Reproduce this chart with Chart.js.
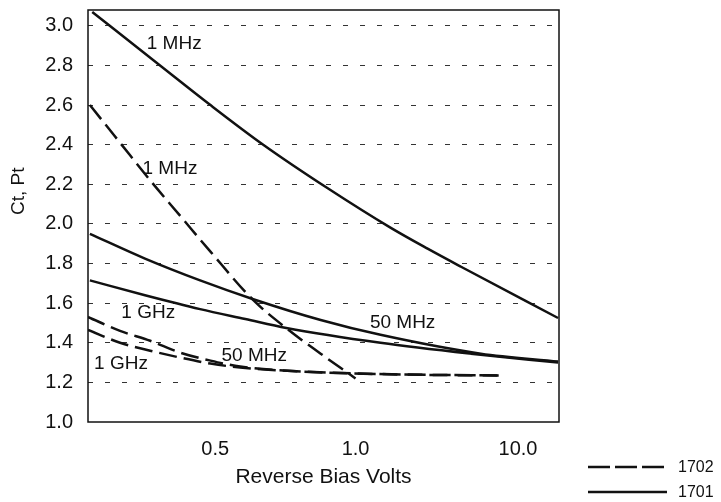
<!DOCTYPE html>
<html>
<head>
<meta charset="utf-8">
<title>Ct vs Reverse Bias Volts</title>
<script src="https://cdn.jsdelivr.net/npm/chart.js@4.4.1/dist/chart.umd.min.js"></script>
<style>
  html, body { margin: 0; padding: 0; background: #fff; }
  #wrap { width: 721px; height: 502px; }
</style>
</head>
<body>
<div id="wrap"><canvas id="myChart"></canvas></div>
<script>
// x is in plot units (0..100) along the printed bias axis,
// the original axis is neither linear nor log so we just place the ticks
const xTickPos = [27.0, 56.8, 91.3];
const xTickLabels = ['0.5', '1.0', '10.0'];
const yTicks = [1.0, 1.2, 1.4, 1.6, 1.8, 2.0, 2.2, 2.4, 2.6, 2.8, 3.0];

// 1701 (solid)
const x1701_1MHz = [0.9, 15.3, 26.0, 37.2, 50.9, 64.3, 72.1, 79.1, 99.8];
const y1701_1MHz = [3.07, 2.80, 2.60, 2.40, 2.18, 1.98, 1.875, 1.785, 1.525];
const x1701_50MHz = [0.4, 12.1, 23.8, 35.1, 49.4, 62.1, 83.4, 99.8];
const y1701_50MHz = [1.95, 1.825, 1.715, 1.62, 1.515, 1.44, 1.345, 1.305];
const x1701_1GHz = [0.4, 12.1, 23.8, 33.4, 42.1, 62.1, 81.3, 99.8];
const y1701_1GHz = [1.715, 1.64, 1.57, 1.52, 1.475, 1.40, 1.345, 1.30];

// 1702 (dashed)
const x1702_1MHz = [0.4, 6.8, 13.2, 19.6, 26.0, 35.1, 42.3, 49.4, 56.8];
const y1702_1MHz = [2.60, 2.41, 2.22, 2.04, 1.86, 1.615, 1.47, 1.345, 1.22];
const x1702_50MHz = [0, 6.8, 13.2, 19.6, 26.0, 32.3, 45.1, 66.4, 87.2];
const y1702_50MHz = [1.53, 1.46, 1.41, 1.35, 1.31, 1.28, 1.255, 1.24, 1.235];
const x1702_1GHz = [0, 6.8, 13.2, 19.6, 26.0, 32.3, 45.1, 66.4, 87.2];
const y1702_1GHz = [1.465, 1.40, 1.36, 1.325, 1.295, 1.275, 1.255, 1.24, 1.235];

const seriesNames = ['1702', '1701'];
const curveLabels = [
  { text: '1 MHz', x: 18.3, y: 2.91 },
  { text: '1 MHz', x: 17.4, y: 2.28 },
  { text: '1 GHz', x: 12.8, y: 1.55 },
  { text: '1 GHz', x: 7.0, y: 1.295 },
  { text: '50 MHz', x: 35.3, y: 1.335 },
  { text: '50 MHz', x: 66.8, y: 1.50 },
];

const INK = '#111';
const DASH = [18, 7];
const pts = (xs, ys) => xs.map((x, i) => ({ x: x, y: ys[i] }));

const line = (label, xs, ys, dashed) => ({
  label: label,
  data: pts(xs, ys),
  borderColor: INK,
  borderWidth: 2.5,
  borderDash: dashed ? DASH : [],
  pointRadius: 0,
  fill: false,
  cubicInterpolationMode: 'monotone',
});

const extras = {
  id: 'extras',
  afterDraw(chart) {
    const { ctx, chartArea: a, scales: { x, y } } = chart;
    ctx.save();

    // box round the plot
    ctx.strokeStyle = INK;
    ctx.lineWidth = 1.5;
    ctx.strokeRect(a.left, a.top, a.right - a.left, a.bottom - a.top);

    // curve labels
    ctx.fillStyle = INK;
    ctx.font = '19px "Liberation Sans", Arial, sans-serif';
    ctx.textAlign = 'center';
    ctx.textBaseline = 'middle';
    curveLabels.forEach(l => {
      ctx.fillText(l.text, x.getPixelForValue(l.x), y.getPixelForValue(l.y));
    });

    // y title, sits a bit above the middle in the original
    ctx.save();
    ctx.translate(a.left - 69, a.top + (a.bottom - a.top) * 0.44);
    ctx.rotate(-Math.PI / 2);
    ctx.font = '19px "Liberation Sans", Arial, sans-serif';
    ctx.fillText('Ct, Pt', 0, 0);
    ctx.restore();

    // legend, bottom right under the plot
    ctx.font = '16px "Liberation Sans", Arial, sans-serif';
    ctx.textAlign = 'left';
    seriesNames.forEach((name, i) => {
      const ly = a.bottom + 45 + i * 25;
      ctx.beginPath();
      ctx.setLineDash(name === '1702' ? [22, 5] : []);
      ctx.lineWidth = 2.5;
      ctx.moveTo(a.right + 29, ly);
      ctx.lineTo(a.right + 108, ly);
      ctx.stroke();
      ctx.setLineDash([]);
      ctx.fillText(name, a.right + 119, ly + 1);
    });
    ctx.restore();
  }
};

const ctx = document.getElementById('myChart').getContext('2d');
new Chart(ctx, {
  type: 'line',
  data: {
    datasets: [
      line('1701 1 MHz', x1701_1MHz, y1701_1MHz, false),
      line('1701 50 MHz', x1701_50MHz, y1701_50MHz, false),
      line('1701 1 GHz', x1701_1GHz, y1701_1GHz, false),
      line('1702 1 MHz', x1702_1MHz, y1702_1MHz, true),
      line('1702 50 MHz', x1702_50MHz, y1702_50MHz, true),
      line('1702 1 GHz', x1702_1GHz, y1702_1GHz, true),
    ],
  },
  options: {
    responsive: true,
    maintainAspectRatio: false,
    animation: false,
    layout: { padding: { top: 10, right: 162, bottom: 0, left: 0 } },
    plugins: {
      legend: { display: false },
      tooltip: { enabled: false },
    },
    scales: {
      x: {
        type: 'linear',
        min: 0,
        max: 100,
        afterBuildTicks: scale => {
          scale.ticks = xTickPos.map(v => ({ value: v }));
        },
        afterFit: scale => {
          scale.height = 80;
        },
        grid: { display: false },
        border: { display: false },
        ticks: {
          padding: 7,
          color: INK,
          font: { family: '"Liberation Sans", Arial, sans-serif', size: 20 },
          callback: (value, index) => xTickLabels[index],
        },
        title: {
          display: true,
          text: 'Reverse Bias Volts',
          color: INK,
          font: { family: '"Liberation Sans", Arial, sans-serif', size: 21 },
          padding: { top: 0, bottom: 12 },
        },
      },
      y: {
        type: 'linear',
        min: 1.0,
        max: 3.08,
        afterBuildTicks: scale => {
          scale.ticks = yTicks.map(v => ({ value: v }));
        },
        afterFit: scale => {
          scale.width = 88;
          scale.paddingTop = 0;
          scale.paddingBottom = 0;
        },
        grid: {
          drawTicks: false,
          lineWidth: 1,
          color: c => (c.tick && c.tick.value === 1.0 ? 'rgba(0,0,0,0)' : '#333'),
        },
        border: { display: false, dash: [5, 12] },
        ticks: {
          padding: 15,
          color: INK,
          font: { family: '"Liberation Sans", Arial, sans-serif', size: 20 },
          callback: value => value.toFixed(1),
        },
      },
    },
  },
  plugins: [extras],
});
</script>
</body>
</html>
